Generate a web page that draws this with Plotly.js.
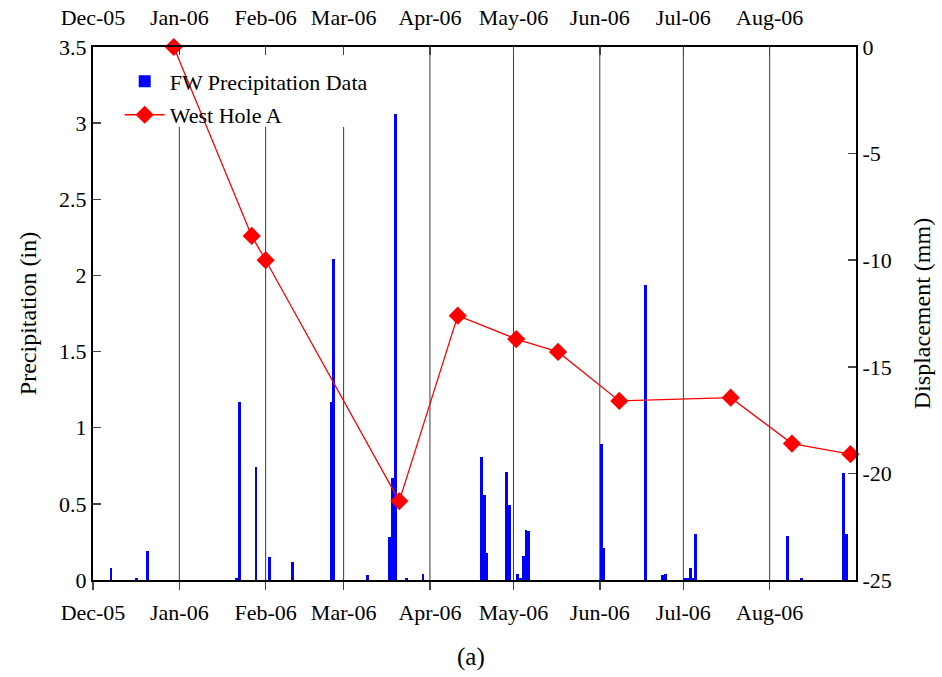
<!DOCTYPE html>
<html>
<head>
<meta charset="utf-8">
<script src="https://cdn.plot.ly/plotly-3.0.1.min.js"></script>
<style>html,body{margin:0;padding:0;background:#fff;}#chart{width:942px;height:677px;}</style>
</head>
<body>
<div id="chart"></div>
<script>
// Precipitation (daily, inches)
var precipDates = ["2005-12-07","2005-12-16","2005-12-20","2006-01-21","2006-01-22","2006-01-28",
  "2006-02-02","2006-02-10","2006-02-24","2006-02-25","2006-03-09","2006-03-17","2006-03-18",
  "2006-03-19","2006-03-23","2006-03-29","2006-04-19","2006-04-20","2006-04-21","2006-04-28",
  "2006-04-29","2006-05-02","2006-05-03","2006-05-04","2006-05-05","2006-05-06","2006-06-01",
  "2006-06-02","2006-06-17","2006-06-23","2006-06-24","2006-07-01","2006-07-02","2006-07-03",
  "2006-07-04","2006-07-05","2006-08-07","2006-08-12","2006-08-27","2006-08-28"];
var precipValues = [0.08,0.01,0.19,0.01,1.17,0.74,
  0.15,0.12,1.17,2.11,0.03,0.28,0.67,
  3.06,0.01,0.04,0.81,0.56,0.18,0.71,
  0.49,0.04,0.01,0.16,0.33,0.32,0.89,
  0.21,1.94,0.03,0.04,0.01,0.01,0.08,
  0.01,0.30,0.29,0.01,0.70,0.30];

// West Hole A displacement (mm)
var holeDates = ["2005-12-30","2006-01-27","2006-02-01","2006-03-21","2006-04-11","2006-05-02",
  "2006-05-17","2006-06-08","2006-07-18","2006-08-09","2006-08-30"];
var holeValues = [0,-8.86,-10.0,-21.3,-12.6,-13.7,-14.3,-16.6,-16.45,-18.6,-19.1];

// Axis ticks
var monthTicks = ["2005-12-01","2006-01-01","2006-02-01","2006-03-01","2006-04-01","2006-05-01",
  "2006-06-01","2006-07-01","2006-08-01"];
var monthLabels = ["Dec-05","Jan-06","Feb-06","Mar-06","Apr-06","May-06","Jun-06","Jul-06","Aug-06"];
var precipTicks = [0,0.5,1,1.5,2,2.5,3,3.5];
var dispTicks = [-25,-20,-15,-10,-5,0];
var dispLabels = ["-25","-20","-15","-10","-5","0"];

var xRange = ["2005-12-01","2006-09-01"];
var FONT = "Liberation Serif";

var bars = {
  type: "bar",
  name: "FW Precipitation Data",
  legendgroup: "a",
  x: precipDates.map(function(d){ return d + " 12:00"; }),
  y: precipValues,
  width: 86400000,
  marker: {color: "#0000ff", line: {width: 0}},
  xaxis: "x", yaxis: "y"
};
var line = {
  type: "scatter",
  mode: "lines+markers",
  name: "West Hole A",
  legendgroup: "b",
  x: holeDates,
  y: holeValues,
  line: {color: "#ff0000", width: 1.3},
  marker: {symbol: "diamond", size: 14, color: "#ff0000"},
  xaxis: "x2", yaxis: "y2",
  cliponaxis: false
};

// vertical month grid lines (Jan-Mar stop below the legend)
var shapes = monthTicks.slice(1).map(function(d, i){
  var top = (i < 3) ? 0.85 : 1;
  return {type: "line", xref: "x", yref: "paper", x0: d, x1: d, y0: 0, y1: top,
          line: {color: "#3a3a3a", width: 1}, layer: "below"};
});

var layout = {
  width: 942, height: 677,
  margin: {l: 93, r: 86, t: 47, b: 97},
  paper_bgcolor: "#ffffff", plot_bgcolor: "#ffffff",
  font: {family: FONT, size: 22, color: "#000"},
  showlegend: true,
  legend: {x: 0.035, y: 0.975, xanchor: "left", yanchor: "top", bgcolor: "rgba(0,0,0,0)",
           font: {family: FONT, size: 22, color: "#000"}, tracegroupgap: 2, itemwidth: 40},
  bargap: 0,
  xaxis: {type: "date", range: xRange, tickvals: monthTicks, ticktext: monthLabels,
          showgrid: false, zeroline: false, showline: true, linecolor: "#000", linewidth: 2,
          ticks: "outside", ticklen: 8, tickwidth: 1.5, tickcolor: "#444", ticklabelstandoff: 4,
          tickfont: {family: FONT, size: 22}},
  xaxis2: {type: "date", range: xRange, tickvals: monthTicks, ticktext: monthLabels,
           overlaying: "x", side: "top", showgrid: false, zeroline: false, showline: true,
           linecolor: "#000", linewidth: 2, ticks: "inside", ticklen: 8, tickwidth: 1.5, tickcolor: "#444",
           ticklabelstandoff: 11, tickfont: {family: FONT, size: 22}},
  yaxis: {range: [0, 3.5], tickvals: precipTicks, showgrid: false, zeroline: false,
          showline: true, linecolor: "#000", linewidth: 2, ticks: "inside", ticklen: 8,
          tickwidth: 1.5, tickcolor: "#444", tickfont: {family: FONT, size: 22},
          title: {text: "Precipitation (in)", font: {family: FONT, size: 24}, standoff: 16}},
  yaxis2: {range: [-25, 0], tickvals: dispTicks, ticktext: dispLabels, overlaying: "y", side: "right",
           showgrid: false, zeroline: false, showline: true, linecolor: "#000", linewidth: 2,
           ticks: "inside", ticklen: 8, tickwidth: 1.5, tickcolor: "#444",
           tickfont: {family: FONT, size: 22},
           title: {text: "Displacement (mm)", font: {family: FONT, size: 24}, standoff: 22}},
  shapes: shapes,
  annotations: [{text: "(a)", xref: "paper", yref: "paper", x: 0.495, y: -0.145,
                 xanchor: "center", yanchor: "middle", showarrow: false,
                 font: {family: FONT, size: 25, color: "#000"}}]
};

Plotly.newPlot("chart", [bars, line], layout, {displayModeBar: false, staticPlot: true});
</script>
</body>
</html>
